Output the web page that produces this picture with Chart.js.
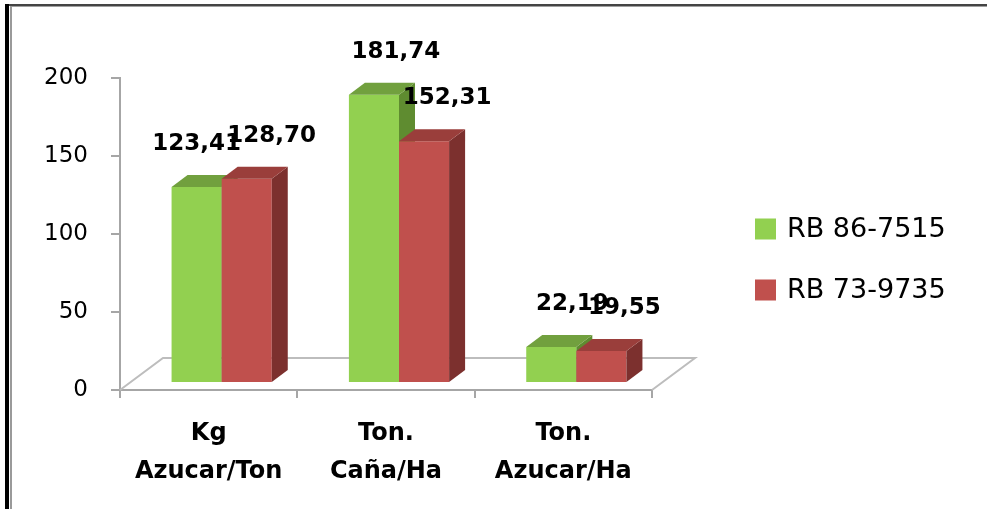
<!DOCTYPE html>
<html>
<head>
<meta charset="utf-8">
<script src="https://cdn.jsdelivr.net/npm/chart.js@4.4.1/dist/chart.umd.min.js"></script>
<style>
  html, body { margin: 0; padding: 0; background: #fff; }
  #wrap { position: relative; width: 987px; height: 509px; overflow: hidden; }
  canvas { position: absolute; left: 0; top: 0; }
  .ln { position: absolute; }
</style>
</head>
<body>
<div id="wrap">
  <canvas id="c" width="987" height="509"></canvas>
  <div class="ln" style="left:5px;top:4px;width:4px;height:505px;background:#000;"></div>
  <div class="ln" style="left:10px;top:6px;width:2px;height:503px;background:#9a9a9a;"></div>
  <div class="ln" style="left:9px;top:4px;width:978px;height:2px;background:#444;"></div>
  <div class="ln" style="left:12px;top:6px;width:975px;height:1px;background:#a0a0a0;"></div>
</div>
<script>
// ---- data ----
const categories = [["Kg", "Azucar/Ton"], ["Ton.", "Caña/Ha"], ["Ton.", "Azucar/Ha"]];
const seriesNames = ["RB 86-7515", "RB 73-9735"];
const seriesA = [123.41, 181.74, 22.19];
const seriesB = [128.70, 152.31, 19.55];
const yTicks = [0, 50, 100, 150, 200];

// ---- styling ----
const FRONT = ["#92D050", "#C0504D"];
const TOP = ["#71A03E", "#9A3E3B"];
const SIDE = ["#5F8C30", "#7C302E"];
const AXIS = "#A6A6A6";
const FLOOR = "#BDBDBD";
const DEPTH_X = 16, DEPTH_Y = -12;      // bar depth
const FLOOR_X = 43, FLOOR_Y = -32;      // floor depth
const BAR_SHIFT_X = 13;                 // bars sit inside the floor
const LABEL_DX = [[0, 22, 21], [25, 23, 23]];
const LABEL_DY = -43;

const threeD = {
  id: 'threeD',
  beforeDatasetsDraw(chart) {
    const ctx = chart.ctx, a = chart.chartArea;
    ctx.save();
    ctx.strokeStyle = FLOOR;
    ctx.lineWidth = 2;
    ctx.beginPath();
    ctx.moveTo(a.left, a.bottom);
    ctx.lineTo(a.left + FLOOR_X, a.bottom + FLOOR_Y);
    ctx.lineTo(a.right + FLOOR_X, a.bottom + FLOOR_Y);
    ctx.lineTo(a.right, a.bottom);
    ctx.stroke();
    ctx.restore();
  },
  beforeDatasetDraw() {
    return false; // bars are drawn below in series order, with their 3D faces
  },
  afterDatasetsDraw(chart) {
    const ctx = chart.ctx;
    ctx.save();
    ctx.translate(BAR_SHIFT_X, 0);
    chart.data.datasets.forEach((ds, di) => {
      chart.getDatasetMeta(di).data.forEach(el => {
        el.draw(ctx);
        const p = el.getProps(['x', 'y', 'base', 'width'], true);
        const l = p.x - p.width / 2, r = p.x + p.width / 2;
        ctx.fillStyle = SIDE[di];
        ctx.beginPath();
        ctx.moveTo(r, p.y);
        ctx.lineTo(r + DEPTH_X, p.y + DEPTH_Y);
        ctx.lineTo(r + DEPTH_X, p.base + DEPTH_Y);
        ctx.lineTo(r, p.base);
        ctx.closePath();
        ctx.fill();
        ctx.fillStyle = TOP[di];
        ctx.beginPath();
        ctx.moveTo(l, p.y);
        ctx.lineTo(l + DEPTH_X, p.y + DEPTH_Y);
        ctx.lineTo(r + DEPTH_X, p.y + DEPTH_Y);
        ctx.lineTo(r, p.y);
        ctx.closePath();
        ctx.fill();
      });
    });
    ctx.restore();

    ctx.save();
    ctx.font = "bold 23px 'DejaVu Sans'";
    ctx.fillStyle = "#000";
    ctx.textAlign = "center";
    ctx.textBaseline = "middle";
    chart.data.datasets.forEach((ds, di) => {
      chart.getDatasetMeta(di).data.forEach((el, i) => {
        const txt = ds.data[i].toFixed(2).replace('.', ',');
        ctx.fillText(txt, el.x + BAR_SHIFT_X + LABEL_DX[di][i], el.y + LABEL_DY);
      });
    });
    ctx.restore();
  },
  afterDraw(chart) {
    const ctx = chart.ctx;
    ctx.save();
    ctx.font = "27px 'DejaVu Sans'";
    ctx.textBaseline = "middle";
    ctx.textAlign = "left";
    chart.data.datasets.forEach((ds, di) => {
      const cy = 229 + di * 61;
      ctx.fillStyle = ds.backgroundColor;
      ctx.fillRect(755, cy - 10.5, 21, 21);
      ctx.fillStyle = "#000";
      ctx.fillText(ds.label, 787, cy + 1);
    });
    ctx.restore();
  }
};

new Chart(document.getElementById('c'), {
  type: 'bar',
  data: {
    labels: categories,
    datasets: [
      { label: seriesNames[0], data: seriesA, backgroundColor: FRONT[0], yAxisID: 'yb' },
      { label: seriesNames[1], data: seriesB, backgroundColor: FRONT[1], yAxisID: 'yb' }
    ]
  },
  options: {
    responsive: false,
    animation: false,
    devicePixelRatio: 1,
    layout: { padding: { top: 78, left: 0, right: 335, bottom: 0 } },
    categoryPercentage: 0.565,
    barPercentage: 1.0,
    plugins: { legend: { display: false }, tooltip: { enabled: false } },
    scales: {
      x: {
        offset: true,
        grid: { display: true, offset: true, drawOnChartArea: false, drawTicks: true, tickLength: 8, color: AXIS, lineWidth: 2 },
        border: { display: true, color: AXIS, width: 2 },
        ticks: { color: "#000", font: { family: "'DejaVu Sans'", size: 24, weight: 'bold', lineHeight: 1.58 }, padding: 17, maxRotation: 0, autoSkip: false },
        afterFit(s) { s.height = 119; }
      },
      y: {
        min: 0, max: 200,
        afterBuildTicks(s) { s.ticks = yTicks.map(v => ({ value: v })); },
        grid: { display: true, drawOnChartArea: false, drawTicks: true, tickLength: 9, color: AXIS, lineWidth: 2 },
        border: { display: true, color: AXIS, width: 2 },
        ticks: { color: "#000", font: { family: "'DejaVu Sans'", size: 23 }, padding: 23 },
        afterFit(s) { s.width = 120; }
      },
      yb: {
        display: false,
        min: -5.06, max: 192.4
      }
    }
  },
  plugins: [threeD]
});
</script>
</body>
</html>
